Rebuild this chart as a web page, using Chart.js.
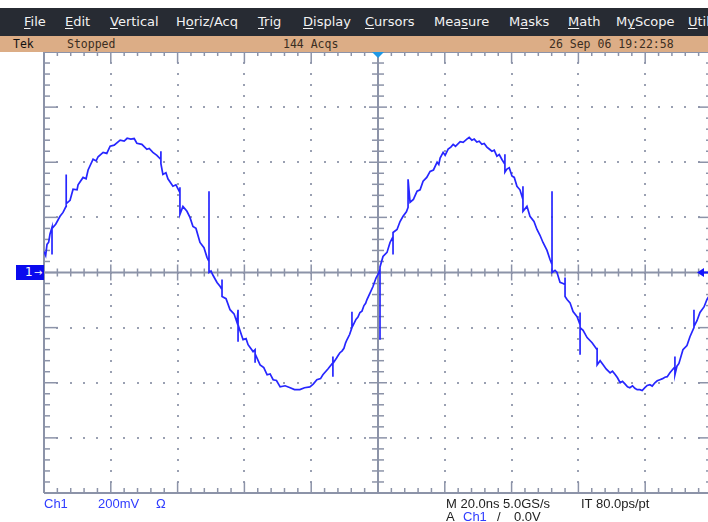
<!DOCTYPE html>
<html lang="en">
<head>
    <meta charset="UTF-8">
    <title>Tek Ch1</title>
    <script src="https://cdn.jsdelivr.net/npm/chart.js"></script>
    <style>
        body {
            margin: 0;
            width: 708px;
            height: 522px;
            overflow: hidden;
            background: #ffffff;
            position: relative;
        }
        #plot {
            position: absolute;
            left: 0;
            top: 0;
            width: 720px;
            height: 522px;
            z-index: 1;
        }
        .menubar {
            position: absolute;
            left: 0; top: 8px;
            width: 708px; height: 28px;
            background: #272b33;
            color: #f2f2f2;
            font-family: "DejaVu Sans", sans-serif;
            font-size: 13px;
            line-height: 28px;
            z-index: 2;
        }
        .menubar span { position: absolute; top: 0; white-space: nowrap; }
        .menubar u { text-decoration-thickness: 1px; text-underline-offset: 2px; }
        .statusbar {
            position: absolute;
            left: 0; top: 36px;
            width: 708px; height: 16px;
            background: #dcad86;
            color: #3b2e22;
            font-family: "DejaVu Sans Mono", monospace;
            font-size: 11.5px;
            line-height: 16px;
            z-index: 2;
        }
        .statusbar span { position: absolute; top: 0; white-space: nowrap; }
        .readout {
            position: absolute;
            font-family: "Liberation Sans", Arial, sans-serif;
            font-size: 13px;
            color: #222222;
            white-space: nowrap;
            z-index: 2;
        }
        .blue { color: #2f3cff; }
        #chmark {
            position: absolute;
            left: 16px; top: 265px;
            width: 28px; height: 15px;
            background: #0a0aee;
            color: #ffffff;
            font-family: "DejaVu Sans", sans-serif;
            font-size: 12px;
            line-height: 15px;
            z-index: 2;
        }
    </style>
</head>
<body>
    <div class="menubar">
        <span style="left:24px"><u>F</u>ile</span>
        <span style="left:65px"><u>E</u>dit</span>
        <span style="left:110px"><u>V</u>ertical</span>
        <span style="left:176px">H<u>o</u>riz/Acq</span>
        <span style="left:258px"><u>T</u>rig</span>
        <span style="left:303px"><u>D</u>isplay</span>
        <span style="left:365px"><u>C</u>ursors</span>
        <span style="left:434px">Mea<u>s</u>ure</span>
        <span style="left:509px">M<u>a</u>sks</span>
        <span style="left:568px"><u>M</u>ath</span>
        <span style="left:616px">M<u>y</u>Scope</span>
        <span style="left:688px"><u>U</u>tilities</span>
    </div>
    <div class="statusbar">
        <span style="left:13px;color:#111">Tek</span>
        <span style="left:67px">Stopped</span>
        <span style="left:283px">144 Acqs</span>
        <span style="left:549px">26 Sep 06 19:22:58</span>
    </div>
    <div id="chmark"><span style="position:absolute;left:9px">1</span><span style="position:absolute;left:18px;font-size:10px">&#8594;</span></div>

    <div class="readout blue" style="left:44px;top:496px">Ch1</div>
    <div class="readout blue" style="left:98px;top:496px">200mV</div>
    <div class="readout blue" style="left:156px;top:496px">&Omega;</div>
    <div class="readout" style="left:446px;top:496px">M 20.0ns 5.0GS/s</div>
    <div class="readout" style="left:581px;top:496px">IT 80.0ps/pt</div>
    <div class="readout" style="left:446px;top:509px">A</div>
    <div class="readout blue" style="left:463px;top:509px">Ch1</div>
    <div class="readout" style="left:497px;top:509px">/</div>
    <div class="readout" style="left:514px;top:509px">0.0V</div>

    <div id="plot"><canvas id="scope"></canvas></div>

    <script>
        // Ch1 trace: time (ns, trigger at 0) and voltage (mV).
        // Lines of the two arrays match one to one.
        const timeNs = [
            -100.0, -99.5, -99.1, -98.6, -98.2, -97.6, -97.6, -97.6, -96.5, -95.2,
            -94.3, -93.4, -93.4, -93.3, -92.2, -91.3, -90.1, -89.8, -88.3, -87.4,
            -86.8, -85.3, -84.4, -83.8, -82.3, -81.2, -80.2, -79.0, -77.2, -76.0,
            -75.1, -74.0, -73.0, -72.2, -70.7, -69.2, -68.5, -67.4, -66.2, -65.0,
            -65.0, -65.0, -64.4, -63.5, -62.9, -61.4, -60.5, -59.3, -59.3, -59.3,
            -58.4, -57.2, -56.3, -55.4, -54.5, -53.3, -52.1, -51.2, -50.6, -50.6,
            -50.6, -50.0, -49.4, -48.2, -47.3, -46.7, -46.7, -46.7, -45.5, -44.3,
            -43.1, -42.2, -41.9, -41.9, -41.9, -40.4, -39.5, -38.9, -37.4, -36.8,
            -36.8, -36.8, -35.3, -34.2, -33.2, -32.3, -31.4, -30.4, -29.3, -27.8,
            -26.3, -25.0, -23.4, -22.0, -20.4, -19.4, -18.3, -17.2, -16.5, -15.0,
            -13.5, -13.5, -13.5, -13.5, -12.4, -11.9, -11.4, -10.8, -10.2, -9.7,
            -9.3, -8.5, -7.8, -7.8, -7.8, -6.6, -6.0, -5.4, -4.8, -4.2,
            -3.7, -3.3, -2.4, -1.5, -0.6, 0.0, 0.6, 0.6, 0.6, 1.5,
            2.7, 3.6, 4.5, 4.5, 4.5, 5.7, 6.6, 7.5, 8.5, 9.0,
            9.0, 9.6, 10.6, 11.7, 12.6, 13.5, 14.6, 15.6, 16.6, 17.7,
            18.2, 18.6, 19.5, 20.1, 21.0, 21.8, 22.5, 23.2, 24.6, 25.5,
            26.6, 27.3, 28.1, 28.8, 29.6, 30.3, 31.1, 31.8, 32.6, 33.3,
            34.1, 34.8, 35.6, 36.3, 37.1, 38.0, 38.0, 38.0, 38.6, 39.3,
            40.1, 40.8, 41.6, 42.5, 43.4, 43.4, 43.4, 44.6, 45.5, 46.7,
            47.6, 48.5, 49.4, 50.6, 51.5, 52.1, 52.1, 52.1, 53.0, 53.6,
            54.5, 55.4, 56.0, 56.0, 56.0, 56.6, 57.5, 58.4, 59.6, 60.5,
            60.5, 60.5, 60.5, 61.4, 62.6, 64.1, 65.6, 65.6, 65.6, 66.5,
            67.4, 68.3, 69.5, 70.2, 71.0, 71.7, 72.5, 73.2, 74.0, 74.7,
            75.4, 76.2, 76.9, 77.6, 78.4, 79.1, 79.9, 80.6, 81.4, 82.1,
            82.9, 83.6, 84.4, 85.2, 85.9, 86.6, 87.4, 88.9, 88.9, 88.9,
            89.5, 90.1, 91.3, 92.5, 93.4, 94.6, 94.6, 94.6, 95.5, 96.4,
            97.6, 98.5, 100.0
        ];
        const ch1mV = [
            76, 62, 102, 110, 140, 164, 65, 160, 175, 204,
            218, 240, 356, 250, 262, 302, 300, 318, 345, 340,
            372, 411, 405, 420, 436, 432, 458, 462, 480, 477,
            487, 484, 486, 469, 465, 447, 450, 436, 425, 410,
            440, 395, 356, 362, 340, 313, 318, 290, 309, 211,
            240, 222, 200, 167, 160, 109, 90, 55, 40, 295,
            0, 5, -10, -36, -50, -62, -25, -87, -95, -135,
            -150, -182, -135, -251, -190, -244, -240, -262, -287, -280,
            -327, -295, -335, -345, -371, -368, -389, -392, -415, -411,
            -418, -425, -425, -418, -415, -405, -389, -385, -371, -350,
            -327, -305, -378, -330, -310, -300, -291, -285, -275, -255,
            -244, -225, -200, -142, -200, -170, -162, -145, -140, -120,
            -112, -98, -75, -51, -20, -7, 11, -244, 20, 58,
            73, 109, 130, 65, 145, 156, 185, 204, 220, 236,
            338, 255, 265, 295, 300, 331, 345, 367, 372, 400,
            392, 415, 436, 425, 448, 455, 465, 458, 475, 472,
            484, 490, 480, 484, 473, 476, 465, 468, 455, 448,
            440, 444, 422, 428, 410, 393, 429, 364, 375, 380,
            350, 345, 313, 300, 265, 313, 222, 240, 204, 185,
            156, 135, 109, 80, 47, 29, 295, 0, 8, 0,
            -36, -40, -44, -18, -87, -98, -110, -142, -160, -189,
            -145, -298, -200, -210, -236, -255, -280, -273, -335, -320,
            -335, -350, -364, -358, -370, -382, -400, -395, -405, -415,
            -418, -411, -420, -425, -425, -428, -418, -410, -407, -412,
            -400, -393, -389, -385, -380, -378, -364, -342, -305, -371,
            -340, -330, -280, -265, -233, -200, -135, -196, -175, -145,
            -125, -98, -69
        ];

        // 10 x 8 divisions: 20 ns/div, 200 mV/div, 5 minor steps per div
        const xMajor = [-100, -80, -60, -40, -20, 0, 20, 40, 60, 80, 100];
        const yMajor = [-800, -600, -400, -200, 0, 200, 400, 600, 800];
        const minorSteps = 5;

        const gratColor = '#8c93a8';
        const dotColor = '#9aa0b2';

        const graticule = {
            id: 'graticule',
            beforeDatasetsDraw(chart) {
                const c = chart.ctx;
                const xs = chart.scales.x, ys = chart.scales.y;
                const X = v => xs.getPixelForValue(v);
                const Y = v => ys.getPixelForValue(v);
                const xMinor = [], yMinor = [];
                for (let i = 0; i < xMajor.length - 1; i++) {
                    const d = (xMajor[i + 1] - xMajor[i]) / minorSteps;
                    for (let k = 0; k < minorSteps; k++) xMinor.push(xMajor[i] + k * d);
                }
                xMinor.push(xMajor[xMajor.length - 1]);
                for (let i = 0; i < yMajor.length - 1; i++) {
                    const d = (yMajor[i + 1] - yMajor[i]) / minorSteps;
                    for (let k = 0; k < minorSteps; k++) yMinor.push(yMajor[i] + k * d);
                }
                yMinor.push(yMajor[yMajor.length - 1]);
                const isXMaj = v => xMajor.includes(v);
                const isYMaj = v => yMajor.includes(v);

                c.save();
                // dotted grid on the division lines
                c.fillStyle = dotColor;
                xMajor.slice(1, -1).forEach(xv => {
                    if (xv === 0) return;
                    yMinor.forEach(yv => c.fillRect(Math.round(X(xv)) - 1, Math.round(Y(yv)) - 1, 2, 2));
                });
                yMajor.slice(1, -1).forEach(yv => {
                    if (yv === 0) return;
                    xMinor.forEach(xv => c.fillRect(Math.round(X(xv)) - 1, Math.round(Y(yv)) - 1, 2, 2));
                });

                c.strokeStyle = gratColor;
                c.lineWidth = 2;
                const line = (x1, y1, x2, y2) => {
                    c.beginPath(); c.moveTo(x1, y1); c.lineTo(x2, y2); c.stroke();
                };
                const L = X(xMajor[0]), R = X(xMajor[xMajor.length - 1]);
                const T = Y(yMajor[yMajor.length - 1]), B = Y(yMajor[0]);
                const cx = X(0), cy = Y(0);

                // frame
                line(L, T, L, B); line(R, T, R, B);
                line(L, T, R, T); line(L, B, R, B);
                // centre cross
                line(cx, T, cx, B); line(L, cy, R, cy);

                c.lineWidth = 1.5;
                yMinor.forEach(yv => {
                    const py = Y(yv), maj = isYMaj(yv);
                    line(L, py, L + (maj ? 14 : 6), py);
                    line(R, py, R - (maj ? 14 : 6), py);
                    line(cx - (maj ? 9 : 6), py, cx + (maj ? 9 : 6), py);
                });
                xMinor.forEach(xv => {
                    const px = X(xv), maj = isXMaj(xv);
                    line(px, T, px, T + (maj ? 11 : 4));
                    line(px, B, px, B - (maj ? 11 : 5));
                    line(px, cy - (maj ? 8 : 4), px, cy + (maj ? 8 : 4));
                });
                c.restore();
            },
            afterDatasetsDraw(chart) {
                const c = chart.ctx;
                const xs = chart.scales.x, ys = chart.scales.y;
                const cx = xs.getPixelForValue(0), cy = ys.getPixelForValue(0);
                const T = ys.getPixelForValue(yMajor[yMajor.length - 1]);
                c.save();
                // trigger position marker
                c.fillStyle = '#1e98e6';
                c.beginPath();
                c.moveTo(cx - 6, T); c.lineTo(cx + 6, T); c.lineTo(cx, T + 6);
                c.closePath(); c.fill();
                // trigger level marker on the right
                c.fillStyle = '#1414ff';
                c.strokeStyle = '#1414ff';
                c.beginPath();
                c.moveTo(697, cy); c.lineTo(704, cy - 4.5); c.lineTo(704, cy + 4.5);
                c.closePath(); c.fill();
                c.lineWidth = 2;
                c.beginPath(); c.moveTo(703, cy); c.lineTo(712, cy); c.stroke();
                c.restore();
            }
        };

        const ctx = document.getElementById('scope').getContext('2d');
        const scopeChart = new Chart(ctx, {
            type: 'scatter',
            data: {
                datasets: [{
                    label: 'Ch1',
                    data: timeNs.map((t, i) => ({ x: t, y: ch1mV[i] })),
                    showLine: true,
                    borderColor: '#2626ff',
                    borderWidth: 1.7,
                    pointRadius: 0,
                    tension: 0
                }]
            },
            options: {
                responsive: true,
                maintainAspectRatio: false,
                animation: false,
                layout: { padding: { left: 44, top: 52, right: 8, bottom: 29 } },
                plugins: { legend: { display: false }, tooltip: { enabled: false } },
                scales: {
                    x: { type: 'linear', min: -100, max: 100, display: false },
                    y: { min: -800, max: 800, display: false }
                }
            },
            plugins: [graticule]
        });
    </script>
</body>
</html>
